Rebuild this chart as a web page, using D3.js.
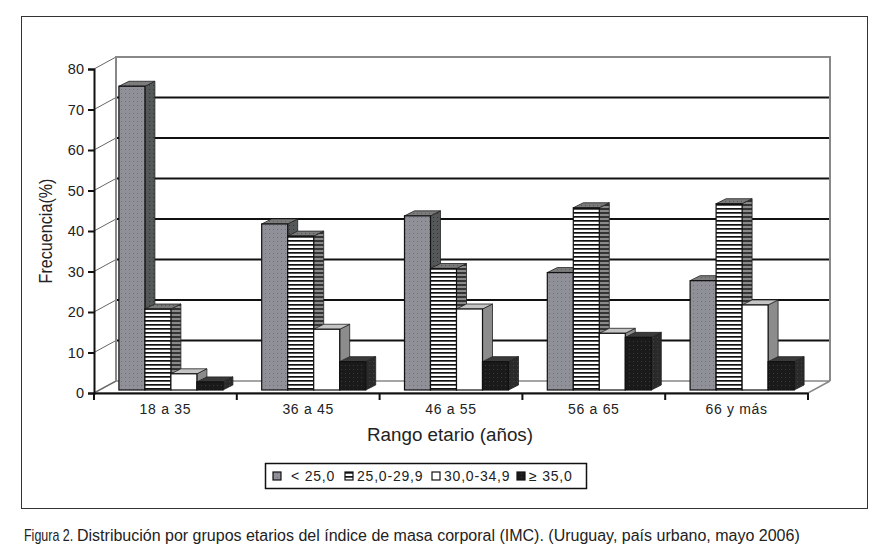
<!DOCTYPE html>
<html>
<head>
<meta charset="utf-8">
<script src="https://cdnjs.cloudflare.com/ajax/libs/d3/7.8.5/d3.min.js"></script>
<style>
body { margin: 0; background: #fff; }
text { font-family: "Liberation Sans", Arial, sans-serif; fill: #222; }
</style>
</head>
<body>
<svg id="chart" width="885" height="555"></svg>
<script>
// chart data
var categories = ["18 a 35", "36 a 45", "46 a 55", "56 a 65", "66 y más"];
var seriesNames = ["< 25,0", "25,0-29,9", "30,0-34,9", "≥ 35,0"];
var imcMenor25 = [75, 41, 43, 29, 27];
var imc25a29 = [20, 38, 30, 45, 46];
var imc30a34 = [4, 15, 20, 14, 21];
var imcMayor35 = [2, 7, 7, 13, 7];
var yTicks = [0, 10, 20, 30, 40, 50, 60, 70, 80];

var seriesValues = [imcMenor25, imc25a29, imc30a34, imcMayor35];

var svg = d3.select("#chart");

// front plane of the 3d box
var plotLeft = 94, plotRight = 808, plotBottom = 393, plotTop = 69;
// offset of the back wall and of the bars
var DX = 22, DY = -12;
var BX = 5.5, BY = -3;     // bars sit a bit behind the front
var depthX = 10, depthY = -5;

var y = d3.scaleLinear().domain([0, 80]).range([plotBottom, plotTop]);
var xGroup = d3.scaleBand().domain(categories).range([plotLeft, plotRight]).paddingInner(0).paddingOuter(0);
var xSeries = d3.scaleBand().domain(d3.range(seriesNames.length)).range([0, xGroup.bandwidth()]).paddingInner(0).paddingOuter(0.746);

// patterns for the bar faces
var defs = svg.append("defs");
function dotPattern(id, base, dot){
	var p = defs.append("pattern").attr("id", id).attr("width", 4).attr("height", 4).attr("patternUnits", "userSpaceOnUse");
	p.append("rect").attr("width", 4).attr("height", 4).attr("fill", base);
	p.append("rect").attr("x", 1).attr("y", 1).attr("width", 1).attr("height", 1).attr("fill", dot);
}
function stripePattern(id, base, line, h){
	var p = defs.append("pattern").attr("id", id).attr("width", 4).attr("height", 4).attr("patternUnits", "userSpaceOnUse");
	p.append("rect").attr("width", 4).attr("height", 4).attr("fill", base);
	p.append("rect").attr("y", 0).attr("width", 4).attr("height", h).attr("fill", line);
}
dotPattern("g1front", "#909099", "#6a6aa8");
dotPattern("g1side", "#545858", "#333");
dotPattern("g1top", "#7c7c7c", "#5a5a5a");
stripePattern("g2front", "#ffffff", "#111", 1.7);
stripePattern("g2side", "#8a8a8a", "#333", 2);
dotPattern("g2top", "#7a7a7a", "#555");
dotPattern("g4front", "#1a1a1a", "#3a3a3a");
dotPattern("g4side", "#2a2a2a", "#444");

var faces = [
	{front: "url(#g1front)", side: "url(#g1side)", top: "url(#g1top)"},
	{front: "url(#g2front)", side: "url(#g2side)", top: "url(#g2top)"},
	{front: "#ffffff", side: "#8c8c8c", top: "#c4c4c4"},
	{front: "url(#g4front)", side: "url(#g4side)", top: "#3a3a3a"}
];

// outer frame
svg.append("rect").attr("x", 21.5).attr("y", 16.5).attr("width", 846).attr("height", 492)
	.attr("fill", "#fff").attr("stroke", "#333").attr("stroke-width", 1);

// floor
svg.append("path")
	.attr("d", "M" + plotLeft + "," + plotBottom + "L" + plotRight + "," + plotBottom + "L" + (plotRight + DX) + "," + (plotBottom + DY) + "L" + (plotLeft + DX) + "," + (plotBottom + DY) + "Z")
	.attr("fill", "#fff").attr("stroke", "#888").attr("stroke-width", 1.5);

// gridlines on the back wall and the side wall
yTicks.forEach(function(t){
	if(t > 0 && t < 80){
		svg.append("line").attr("x1", plotLeft + DX).attr("x2", plotRight + DX)
			.attr("y1", y(t) + DY).attr("y2", y(t) + DY)
			.attr("stroke", "#111").attr("stroke-width", 2);
	}
	svg.append("line").attr("x1", plotLeft).attr("y1", y(t)).attr("x2", plotLeft + DX).attr("y2", y(t) + DY)
		.attr("stroke", "#666").attr("stroke-width", 1);
});

// wall edges
svg.append("path")
	.attr("d", "M" + (plotLeft + DX) + "," + (plotBottom + DY) + "L" + (plotLeft + DX) + "," + (plotTop + DY) + "L" + (plotRight + DX) + "," + (plotTop + DY) + "L" + (plotRight + DX) + "," + (plotBottom + DY))
	.attr("fill", "none").attr("stroke", "#888").attr("stroke-width", 2);

// bars, drawn left to right so each front face hides the side of the previous bar
categories.forEach(function(cat, gi){
	seriesValues.forEach(function(vals, si){
		var v = vals[gi];
		var x0 = xGroup(cat) + xSeries(si) + BX;
		var x1 = x0 + xSeries.bandwidth();
		var yb = y(0) + BY;
		var yt = y(v) + BY;
		var g = svg.append("g");
		g.append("path")
			.attr("d", "M" + x1 + "," + yb + "L" + (x1 + depthX) + "," + (yb + depthY) + "L" + (x1 + depthX) + "," + (yt + depthY) + "L" + x1 + "," + yt + "Z")
			.attr("fill", faces[si].side).attr("stroke", "#222").attr("stroke-width", 0.8);
		g.append("path")
			.attr("d", "M" + x0 + "," + yt + "L" + x1 + "," + yt + "L" + (x1 + depthX) + "," + (yt + depthY) + "L" + (x0 + depthX) + "," + (yt + depthY) + "Z")
			.attr("fill", faces[si].top).attr("stroke", "#222").attr("stroke-width", 0.8);
		g.append("rect").attr("x", x0).attr("y", yt).attr("width", x1 - x0).attr("height", yb - yt)
			.attr("fill", faces[si].front).attr("stroke", "#111").attr("stroke-width", 1.2);
	});
});

// y axis
var yAxis = svg.append("g").attr("transform", "translate(" + plotLeft + ",0)")
	.call(d3.axisLeft(y).tickValues(yTicks).tickSize(6).tickPadding(4));
yAxis.select(".domain").attr("stroke", "#111").attr("stroke-width", 2);
yAxis.selectAll(".tick line").attr("stroke", "#111").attr("stroke-width", 2);
yAxis.selectAll(".tick text").style("font-size", "14.5px").attr("fill", "#222")
	.style("font-family", "'Liberation Sans', Arial, sans-serif");

// x axis
var xAxis = svg.append("g").attr("transform", "translate(0," + plotBottom + ")")
	.call(d3.axisBottom(xGroup).tickSize(0).tickPadding(11));
xAxis.select(".domain").attr("stroke", "#111").attr("stroke-width", 2);
xAxis.selectAll(".tick text").style("font-size", "14px").style("letter-spacing", "0.7px").attr("fill", "#222")
	.style("font-family", "'Liberation Sans', Arial, sans-serif");
// tick marks between the groups
var bounds = categories.map(function(c){ return xGroup(c); }).concat([plotRight]);
svg.selectAll(".xsep").data(bounds).enter().append("line")
	.attr("x1", function(d){ return d; }).attr("x2", function(d){ return d; })
	.attr("y1", plotBottom).attr("y2", plotBottom + 7)
	.attr("stroke", "#111").attr("stroke-width", 2);

// axis titles
svg.append("text").attr("x", 450).attr("y", 441).attr("text-anchor", "middle")
	.style("font-size", "18.8px").text("Rango etario (años)");
// narrow face: squeeze the regular one
svg.append("text")
	.attr("transform", "translate(52,231) rotate(-90) scale(0.85,1)").attr("text-anchor", "middle")
	.style("font-size", "19px").text("Frecuencia(%)");

// legend
var legend = svg.append("g");
legend.append("rect").attr("x", 265.5).attr("y", 463.5).attr("width", 321).attr("height", 25)
	.attr("fill", "#fff").attr("stroke", "#111").attr("stroke-width", 1.5);
var legendBoxX = [273, 345, 432, 517];
var legendTextX = [291, 357, 444, 529];
seriesNames.forEach(function(name, i){
	legend.append("rect").attr("x", legendBoxX[i]).attr("y", 472).attr("width", 8).attr("height", 8)
		.attr("fill", faces[i].front).attr("stroke", "#111").attr("stroke-width", 1.2);
	legend.append("text").attr("x", legendTextX[i]).attr("y", 481)
		.style("font-size", "14px").style("letter-spacing", "0.8px").text(name);
});

// caption
svg.append("text").attr("transform", "translate(24,541) scale(0.78,1)")
	.style("font-size", "16px").text("Figura 2.");
svg.append("text").attr("x", 77).attr("y", 541).style("font-size", "16px")
	.text("Distribución por grupos etarios del índice de masa corporal (IMC). (Uruguay, país urbano, mayo 2006)");
</script>
</body>
</html>
